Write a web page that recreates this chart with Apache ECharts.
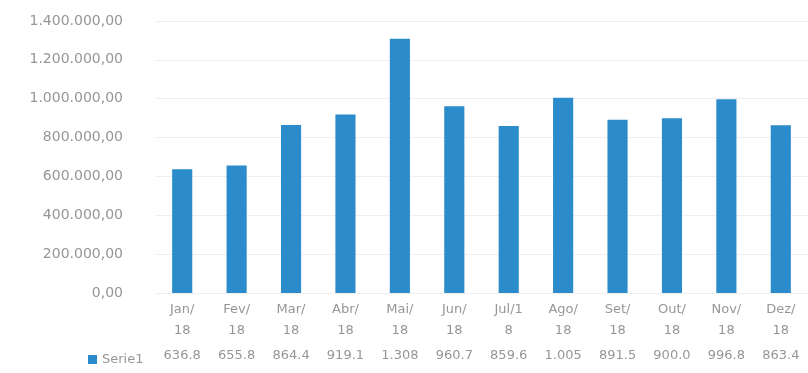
<!DOCTYPE html>
<html><head><meta charset="utf-8">
<script src="https://cdn.jsdelivr.net/npm/echarts@6/dist/echarts.min.js"></script>
<style>html,body{margin:0;padding:0;background:#fff}#c{width:808px;height:373px}</style>
</head><body><div id="c"></div>
<script>
const categories = ["Jan/\n18","Fev/\n18","Mar/\n18","Abr/\n18","Mai/\n18","Jun/\n18","Jul/1\n8","Ago/\n18","Set/\n18","Out/\n18","Nov/\n18","Dez/\n18"];
const serie1 = [636800, 655800, 864400, 919100, 1308000, 960700, 859600, 1005000, 891500, 900000, 996800, 863400];
const tableLabels = ["636.8","655.8","864.4","919.1","1.308","960.7","859.6","1.005","891.5","900.0","996.8","863.4"];
const yTicks = [0, 200000, 400000, 600000, 800000, 1000000, 1200000, 1400000];

function fmt(v){
  const s = Math.round(v).toString().replace(/\B(?=(\d{3})+(?!\d))/g, ".");
  return s + ",00";
}
const txt = '#969696';
const chart = echarts.init(document.getElementById('c'), null, {renderer:'canvas'});
chart.setOption({
  animation:false,
  textStyle:{fontFamily:'DejaVu Sans, sans-serif'},
  legend:{left:83, top:348, itemWidth:9, itemHeight:9, itemGap:5, icon:'rect', data:['Serie1'],
    textStyle:{color:txt, fontSize:13, fontFamily:'DejaVu Sans'}},
  grid:{left:155, right:0, top:21, bottom:80, containLabel:false},
  xAxis:[{
    type:'category', data:categories,
    axisLine:{show:false}, axisTick:{show:false},
    axisLabel:{color:txt, fontSize:13, lineHeight:21, margin:6, interval:0}
  },{
    type:'category', data:categories, position:'bottom', offset:53,
    axisLine:{show:false}, axisTick:{show:false},
    axisLabel:{color:txt, fontSize:13, interval:0, margin:3,
      formatter:function(v, i){ return tableLabels[i]; }}
  }],
  yAxis:{type:'value', min:0, max:1400000, interval:200000,
    axisLine:{show:false}, axisTick:{show:false},
    splitLine:{lineStyle:{color:'#efefef'}},
    axisLabel:{color:txt, fontSize:14, margin:32, formatter:fmt}},
  series:[{name:'Serie1', type:'bar', data:serie1, barWidth:'37%',
    itemStyle:{color:'#2b8bcb'}}]
});
</script></body></html>
